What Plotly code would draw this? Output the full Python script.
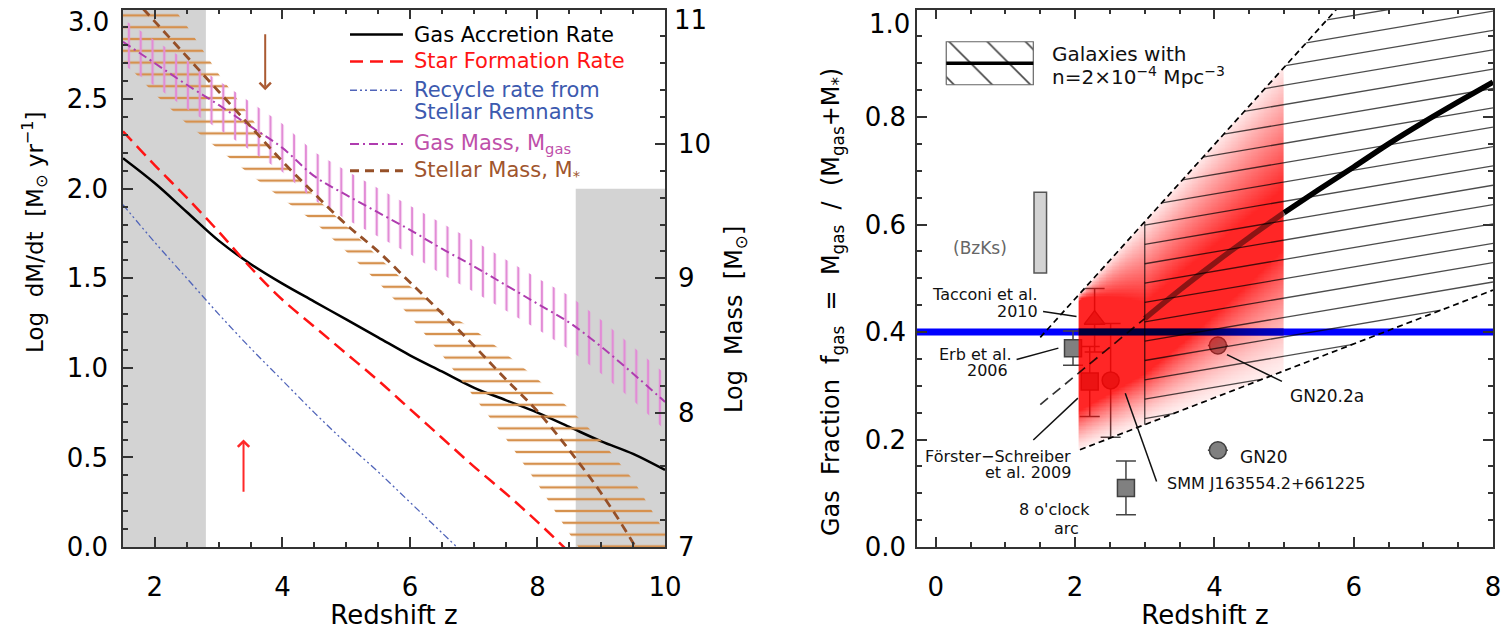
import numpy as np
import plotly.graph_objects as go

FONT = "DejaVu Sans"

# ---------------- left panel: accretion / SFR / masses vs redshift ----------------
z_grid = [1.5, 2.0, 2.5, 3.0, 3.5, 4.0, 4.5, 5.0, 5.5, 6.0, 6.5, 7.0, 7.5, 8.0, 8.5, 9.0, 9.5, 10.0]
accretion_rate = [2.17, 2.03, 1.87, 1.71, 1.58, 1.47, 1.37, 1.27, 1.17, 1.07, 0.98, 0.89, 0.82, 0.75, 0.67, 0.59, 0.52, 0.43]

z_sfr = [1.5, 2.0, 2.5, 3.0, 3.5, 4.0, 4.5, 5.0, 5.5, 6.0, 6.5, 7.0, 7.5, 8.0, 8.5]
sfr = [2.32, 2.13, 1.95, 1.76, 1.56, 1.38, 1.23, 1.08, 0.93, 0.77, 0.61, 0.45, 0.30, 0.14, -0.03]

z_recycle = [1.5, 2.0, 2.5, 3.0, 3.5, 4.0, 4.5, 5.0, 5.5, 6.0, 6.5, 7.0]
recycle_rate = [1.91, 1.70, 1.50, 1.30, 1.11, 0.93, 0.75, 0.58, 0.42, 0.25, 0.08, -0.09]

gas_mass = [10.76, 10.60, 10.44, 10.29, 10.13, 9.97, 9.76, 9.62, 9.49, 9.36, 9.22, 9.09, 8.95, 8.81, 8.67, 8.49, 8.29, 8.08]
gas_mass_err = [0.17, 0.17, 0.18, 0.18, 0.18, 0.18, 0.18, 0.18, 0.18, 0.18, 0.19, 0.19, 0.19, 0.19, 0.20, 0.20, 0.20, 0.21]

stellar_mass = [11.17, 10.91, 10.65, 10.39, 10.13, 9.87, 9.63, 9.40, 9.20, 8.97, 8.74, 8.50, 8.25, 8.01, 7.72, 7.40, 7.03, 6.60]
stellar_lo = [10.62, 10.37, 10.15, 9.96, 9.77, 9.59, 9.42, 9.20, 8.97, 8.72, 8.43, 8.12, 7.81, 7.47, 7.10, 6.75, 6.40, 6.05]
stellar_hi = [11.50, 11.20, 10.88, 10.52, 10.20, 9.87, 9.61, 9.39, 9.16, 8.94, 8.76, 8.62, 8.44, 8.25, 8.03, 7.79, 7.50, 7.11]

rate_ticks = [0.0, 0.5, 1.0, 1.5, 2.0, 2.5, 3.0]
mass_ticks = [7, 8, 9, 10, 11]
frac_ticks = [0.0, 0.2, 0.4, 0.6, 0.8, 1.0]

# ---------------- right panel: gas fraction vs redshift ----------------
edge_up_z = [1.5, 5.75]
edge_up_f = [0.39, 1.0]
edge_lo_z = [2.07, 8.0]
edge_lo_f = [0.181, 0.478]
center_ext_z = [1.5, 2.0, 2.5, 3.0]
center_ext_f = [0.265, 0.318, 0.372, 0.425]
center_z = [3.0, 3.5, 4.0, 4.5, 5.0, 5.5, 6.0, 6.5, 7.0, 7.5, 8.0]
center_f = [0.425, 0.478, 0.528, 0.576, 0.622, 0.665, 0.707, 0.750, 0.790, 0.828, 0.865]
hatch_range = [3.0, 8.0]
red_range = [2.05, 5.0]
blue_level = 0.40

square_z = [1.97, 2.21, 2.73]          # Erb et al., Forster-Schreiber et al., 8 o'clock arc
square_f = [0.370, 0.308, 0.110]
square_err = [0.032, 0.065, 0.050]
tri_z = [2.28]                         # Tacconi et al.
tri_f = [0.423]
tri_err_plus = [0.058]
tri_err_minus = [0.060]
circ_z = [2.51, 4.05, 4.05]            # SMM J163554, GN20.2a, GN20
circ_f = [0.310, 0.375, 0.180]
circ_err = [0.106, None, None]
bzk_z = [1.5]
bzk_lo = [0.51]
bzk_hi = [0.66]

# ---------------- colours ----------------
C_BLACK = "black"
C_RED = "rgb(255,20,20)"
C_BLUE = "rgb(80,100,185)"
C_BLUE_TXT = "rgb(60,90,175)"
C_MAG = "rgb(175,60,175)"
C_MAG_TXT = "rgb(190,80,170)"
C_PINK = "rgb(226,140,214)"
C_BROWN = "rgb(150,80,40)"
C_BROWN_TXT = "rgb(160,85,45)"
C_ORANGE = "rgb(214,145,78)"
C_GRAY = "rgb(211,211,211)"
C_AX = "#333333"

fig = go.Figure()

# stellar-mass range: horizontal line fill
fig.add_trace(go.Scatter(
    x=z_grid + z_grid[::-1], y=stellar_hi + stellar_lo[::-1],
    xaxis="x", yaxis="y2", mode="lines", line=dict(width=0),
    fill="toself", fillcolor="rgba(0,0,0,0)",
    fillpattern=dict(shape="-", fgcolor=C_ORANGE, size=11.8, solidity=0.2),
    hoverinfo="skip"))

# gas-mass range: vertical line fill
gas_hi = [m + e for m, e in zip(gas_mass, gas_mass_err)]
gas_lo = [m - e for m, e in zip(gas_mass, gas_mass_err)]
fig.add_trace(go.Scatter(
    x=z_grid + z_grid[::-1], y=gas_hi + gas_lo[::-1],
    xaxis="x", yaxis="y2", mode="lines", line=dict(width=0),
    fill="toself", fillcolor="rgba(0,0,0,0)",
    fillpattern=dict(shape="|", fgcolor=C_PINK, size=11.8, solidity=0.2),
    hoverinfo="skip"))

fig.add_trace(go.Scatter(x=z_grid, y=accretion_rate, xaxis="x", yaxis="y", mode="lines",
                         line=dict(color=C_BLACK, width=2.5, shape="spline")))
fig.add_trace(go.Scatter(x=z_sfr, y=sfr, xaxis="x", yaxis="y", mode="lines",
                         line=dict(color=C_RED, width=2.5, dash="13px,7px", shape="spline")))
fig.add_trace(go.Scatter(x=z_recycle, y=recycle_rate, xaxis="x", yaxis="y", mode="lines",
                         line=dict(color=C_BLUE, width=1.3, dash="7px,3px,2px,3px,2px,3px", shape="spline")))
fig.add_trace(go.Scatter(x=z_grid, y=gas_mass, xaxis="x", yaxis="y2", mode="lines",
                         line=dict(color=C_MAG, width=2, dash="9px,4px,2px,4px", shape="spline")))
fig.add_trace(go.Scatter(x=z_grid, y=stellar_mass, xaxis="x", yaxis="y2", mode="lines",
                         line=dict(color=C_BROWN, width=2.8, dash="9px,6px", shape="spline")))

# ---------------- right panel, base layer ----------------
fig.add_trace(go.Bar(x=bzk_z, y=[h - l for h, l in zip(bzk_hi, bzk_lo)], base=bzk_lo, width=0.18,
                     xaxis="x2", yaxis="y3",
                     marker=dict(color="#d3d3d3", line=dict(color="#555555", width=1.5))))

fig.add_trace(go.Scatter(x=[-0.27, 8.0], y=[blue_level, blue_level], xaxis="x2", yaxis="y3",
                         mode="lines", line=dict(color="rgb(0,0,255)", width=7)))

MARK = dict(color="#808080", line=dict(color="#404040", width=1.5))
ERR = dict(type="data", color="#444444", thickness=1.5, width=10)
fig.add_trace(go.Scatter(x=square_z, y=square_f, xaxis="x2", yaxis="y3", mode="markers",
                         marker=dict(symbol="square", size=17, **MARK),
                         error_y=dict(array=square_err, **ERR)))
fig.add_trace(go.Scatter(x=tri_z, y=tri_f, xaxis="x2", yaxis="y3", mode="markers",
                         marker=dict(symbol="triangle-up", size=18, **MARK),
                         error_y=dict(array=tri_err_plus, arrayminus=tri_err_minus, symmetric=False, **ERR)))
fig.add_trace(go.Scatter(x=circ_z, y=circ_f, xaxis="x2", yaxis="y3", mode="markers",
                         marker=dict(symbol="circle", size=17, **MARK),
                         error_y=dict(array=[e if e is not None else float("nan") for e in circ_err], **ERR)))


# ---------------- right panel, overlay: shaded red band + hatch ----------------
def edge_value(zs, fs, z):
    """Straight edge through two end points, extended beyond them."""
    slope = (fs[1] - fs[0]) / (zs[1] - zs[0])
    return fs[0] + slope * (np.asarray(z) - zs[0])


def red_level(z, f):
    lo = edge_value(edge_lo_z, edge_lo_f, z)
    up = edge_value(edge_up_z, edge_up_f, z)
    frac = (f - lo) / (up - lo)
    top_start = 0.6 + 0.35 * np.clip((3.0 - z) / 0.9, 0, 1)
    low_end = 0.25 + 0.075 * np.clip(z - 3.0, 0, 2)
    level = np.ones_like(frac)
    low = frac < low_end
    level[low] = 0.08 + 0.92 * np.clip(frac[low] / low_end[low], 0, 1) ** 1.3
    high = frac > top_start
    level[high] = 1 - 0.9 * (frac[high] - top_start[high]) / (1 - top_start[high])
    level[(frac < 0) | (frac > 1)] = np.nan
    return level


hx = np.arange(red_range[0], red_range[1] + 1e-9, 0.0125)
hy = np.arange(0.16, 0.92, 0.0025)
cx = 0.5 * (hx[1:] + hx[:-1])
cy = 0.5 * (hy[1:] + hy[:-1])
CX, CY = np.meshgrid(cx, cy)
level = np.round(red_level(CX, CY), 3)
RED_ALPHA = 0.85
fig.add_trace(go.Heatmap(x=hx, y=hy, z=level, xaxis="x3", yaxis="y4", zmin=0, zmax=1,
                         colorscale=[[0, "rgba(255,0,0,0)"], [1, f"rgba(255,0,0,{RED_ALPHA})"]],
                         showscale=False, hoverinfo="skip"))
# blue line where it crosses the red band, darkened by the shading
strip = np.round(red_level(cx, np.full_like(cx, blue_level)), 3)
fig.add_trace(go.Heatmap(x=hx, y=[blue_level - 0.0066, blue_level + 0.0066], z=[strip.tolist()],
                         xaxis="x3", yaxis="y4", zmin=0, zmax=1,
                         colorscale=[[0, "rgb(0,0,255)"], [1, "rgb(0,0,60)"]],
                         showscale=False, hoverinfo="skip"))

# hatch lines of the n=2e-4 Mpc^-3 band
HATCH_SLOPE = 0.022
HATCH_STEP = 0.036
zz = np.linspace(hatch_range[0], hatch_range[1], 4001)
lo_line = edge_value(edge_lo_z, edge_lo_f, zz)
up_line = np.minimum(edge_value(edge_up_z, edge_up_f, zz), 1.0)
hatch_x, hatch_y = [], []
for k in range(-2, 40):
    yy = 0.997 - k * HATCH_STEP + HATCH_SLOPE * (zz - hatch_range[1])
    inside = np.where((yy >= lo_line) & (yy <= up_line))[0]
    if inside.size > 1:
        i0, i1 = inside[0], inside[-1]
        hatch_x += [zz[i0], zz[i1], None]
        hatch_y += [yy[i0], yy[i1], None]
z_left = hatch_range[0]
hatch_x += [z_left, z_left, None]
hatch_y += [float(edge_value(edge_lo_z, edge_lo_f, z_left)), float(edge_value(edge_up_z, edge_up_f, z_left)), None]
fig.add_trace(go.Scatter(x=hatch_x, y=hatch_y, xaxis="x3", yaxis="y4", mode="lines",
                         line=dict(color="rgba(0,0,0,0.7)", width=1.3)))

# dashed band edges and extension of the central relation
up_end = (1.0 - edge_up_f[0]) / ((edge_up_f[1] - edge_up_f[0]) / (edge_up_z[1] - edge_up_z[0])) + edge_up_z[0]
fig.add_trace(go.Scatter(x=[edge_up_z[0], up_end], y=[edge_up_f[0], 1.0], xaxis="x3", yaxis="y4",
                         mode="lines", line=dict(color="black", width=1.7, dash="6px,4px")))
fig.add_trace(go.Scatter(x=edge_lo_z, y=edge_lo_f, xaxis="x3", yaxis="y4",
                         mode="lines", line=dict(color="black", width=1.7, dash="6px,4px")))
fig.add_trace(go.Scatter(x=center_ext_z, y=center_ext_f, xaxis="x3", yaxis="y4",
                         mode="lines", line=dict(color="rgba(0,0,0,0.8)", width=1.7, dash="10px,6px")))

# thick central relation: darkened inside the shading, black beyond it
in_red = [i for i, z in enumerate(center_z) if z <= red_range[1]]
out_red = [i for i, z in enumerate(center_z) if z >= red_range[1]]
fig.add_trace(go.Scatter(x=[center_z[i] for i in in_red], y=[center_f[i] for i in in_red],
                         xaxis="x3", yaxis="y4", mode="lines",
                         line=dict(color="rgba(0,0,0,0.45)", width=5.5, shape="spline")))
fig.add_trace(go.Scatter(x=[center_z[i] for i in out_red], y=[center_f[i] for i in out_red],
                         xaxis="x3", yaxis="y4", mode="lines",
                         line=dict(color="black", width=5.5, shape="spline")))

# key: hatched box with thick line
KEY_X0, KEY_X1, KEY_Y0, KEY_Y1, KEY_YM = 0.15, 1.40, 0.86, 0.94, 0.90
fig.add_trace(go.Scatter(x=[KEY_X0, KEY_X1, KEY_X1, KEY_X0, KEY_X0],
                         y=[KEY_Y0, KEY_Y0, KEY_Y1, KEY_Y1, KEY_Y0],
                         xaxis="x2", yaxis="y3", mode="lines", line=dict(color="#666666", width=1.2),
                         fill="toself", fillcolor="rgba(0,0,0,0)",
                         fillpattern=dict(shape="\\", fgcolor="#444444", size=27, solidity=0.06)))
fig.add_trace(go.Scatter(x=[KEY_X0, KEY_X1], y=[KEY_YM, KEY_YM], xaxis="x2", yaxis="y3",
                         mode="lines", line=dict(color="black", width=3.5)))

# ---------------- shapes ----------------
shapes = [
    dict(type="rect", xref="x", yref="y", x0=1.5, x1=2.8, y0=0, y1=3, fillcolor=C_GRAY,
         line=dict(width=0), layer="below"),
    dict(type="rect", xref="x", yref="y", x0=8.6, x1=10, y0=0, y1=2.0, fillcolor=C_GRAY,
         line=dict(width=0), layer="below"),
]
# legend samples (left panel)
LEG_X0, LEG_X1, LEG_TX = 5.06, 5.89, 6.03
legend_rows = [
    (2.86, C_BLACK, "solid", 2.5),
    (2.71, C_RED, "13px,7px", 2.5),
    (2.55, C_BLUE, "7px,3px,2px,3px,2px,3px", 1.5),
    (2.25, C_MAG, "9px,4px,2px,4px", 2),
    (2.10, C_BROWN, "9px,6px", 2.8),
]
for yv, col, dash, w in legend_rows:
    shapes.append(dict(type="line", xref="x", yref="y", x0=LEG_X0, x1=LEG_X1, y0=yv, y1=yv,
                       line=dict(color=col, width=w, dash=dash)))

# leader lines (right panel)
leaders = [
    ((1.54, 0.438), (2.02, 0.429)),
    ((1.16, 0.349), (1.76, 0.370)),
    ((1.40, 0.199), (2.04, 0.277)),
    ((2.72, 0.286), (3.17, 0.122)),
    ((4.18, 0.358), (4.97, 0.308)),
]
for (xa, ya), (xb, yb) in leaders:
    shapes.append(dict(type="line", xref="x2", yref="y3", x0=xa, y0=ya, x1=xb, y1=yb,
                       line=dict(color="#111111", width=1.5)))

# ---------------- annotations ----------------
W, H = 1509, 630
ann = []
legend_text = [
    (2.86, "Gas Accretion Rate", C_BLACK),
    (2.71, "Star Formation Rate", C_RED),
    (2.55, "Recycle rate from", C_BLUE_TXT),
    (2.43, "Stellar Remnants", C_BLUE_TXT),
    (2.25, "Gas Mass, M<sub>gas</sub>", C_MAG_TXT),
    (2.10, "Stellar Mass, M<sub>*</sub>", C_BROWN_TXT),
]
for yv, txt, col in legend_text:
    ann.append(dict(x=LEG_TX, y=yv, xref="x", yref="y", text=txt, showarrow=False,
                    xanchor="left", yanchor="middle", font=dict(family=FONT, size=21, color=col)))

ann.append(dict(x=3.73, y=2.55, ax=3.73, ay=2.87, xref="x", yref="y", axref="x", ayref="y",
                text="", showarrow=True, arrowhead=4, arrowsize=1.1, arrowwidth=2, arrowcolor="rgb(170,90,50)"))
ann.append(dict(x=3.39, y=0.60, ax=3.39, ay=0.30, xref="x", yref="y", axref="x", ayref="y",
                text="", showarrow=True, arrowhead=4, arrowsize=1.1, arrowwidth=2, arrowcolor="rgb(255,40,40)"))


def label(x, y, text, anchor="center", size=16, color="#111111"):
    ann.append(dict(x=x, y=y, xref="x2", yref="y3", text=text, showarrow=False,
                    xanchor=anchor, yanchor="middle", font=dict(family=FONT, size=size, color=color)))


label(0.63, 0.557, "(BzKs)", size=17, color="#666666")
label(1.49, 0.470, "Tacconi et al.", "right")
label(1.49, 0.438, "2010", "right")
label(1.11, 0.358, "Erb et al.", "right")
label(1.07, 0.329, "2006", "right")
label(1.97, 0.168, "Förster−Schreiber", "right")
label(1.97, 0.138, "et al. 2009", "right")
label(1.71, 0.069, "8 o'clock")
label(1.88, 0.035, "arc")
label(3.29, 0.119, "SMM J163554.2+661225", "left")
label(5.06, 0.281, "GN20.2a", "left", size=17)
label(4.34, 0.168, "GN20", "left", size=17)
label(1.64, 0.917, "Galaxies with", "left", size=20)
label(1.64, 0.877, "n=2×10<sup>−4</sup> Mpc<sup>−3</sup>", "left", size=20)


def paper_text(px, py, text, size, angle=0, anchor="center"):
    ann.append(dict(x=px / W, y=1 - py / H, xref="paper", yref="paper", text=text, showarrow=False,
                    textangle=angle, xanchor=anchor, yanchor="middle",
                    font=dict(family=FONT, size=size, color="black")))


paper_text(34, 232, "Log  dM/dt  [M<sub>⊙</sub> yr<sup>−1</sup>]", 23, -90)
paper_text(735, 320, "Log  Mass  [M<sub>⊙</sub>]", 24, -90)
paper_text(832, 302, "Gas  Fraction  f<sub>gas</sub>  =  M<sub>gas</sub>  /  (M<sub>gas</sub>+M<sub>*</sub>)", 24, -90)

# the top tick label of each vertical axis sits just below its tick, inside the page
paper_text(111, 22, f"{rate_ticks[-1]:.1f}", 26, anchor="right")
paper_text(672, 20, f"{mass_ticks[-1]}", 26, anchor="left")
paper_text(912, 24, f"{frac_ticks[-1]:.1f}", 26, anchor="right")

# ---------------- axes ----------------
TICKFONT = dict(family=FONT, size=26, color="black")
XTITLE = dict(family=FONT, size=26, color="black")
MINOR = dict(ticklen=5, ticks="inside", tickcolor=C_AX, tickwidth=1.5)
common = dict(showgrid=False, zeroline=False, showline=True, linecolor=C_AX, linewidth=1.6,
              ticks="inside", ticklen=10, tickwidth=1.5, tickcolor=C_AX, tickfont=TICKFONT)

left_dom = [123 / W, 665 / W]
right_dom = [917 / W, 1493 / W]
y_dom = [1 - 547 / H, 1 - 9.5 / H]

fig.update_layout(
    template="none",
    width=W, height=H, margin=dict(l=0, r=0, t=0, b=0),
    paper_bgcolor="white", plot_bgcolor="white", showlegend=False, hovermode=False,
    font=dict(family=FONT, color="black"),
    shapes=shapes, annotations=ann,
    xaxis=dict(domain=left_dom, anchor="y", range=[1.5, 10], tick0=0, dtick=2, mirror="ticks",
               minor=dict(dtick=0.5, **MINOR), ticklabelstandoff=16,
               title=dict(text="Redshift z", font=XTITLE, standoff=8), **common),
    yaxis=dict(domain=y_dom, anchor="x", range=[0, 3], tickmode="array", tickvals=rate_ticks,
               ticktext=[f"{v:.1f}" for v in rate_ticks[:-1]] + [""],
               minor=dict(dtick=0.1, **MINOR), ticklabelstandoff=8, **common),
    yaxis2=dict(overlaying="y", side="right", anchor="x", range=[7, 11], tickmode="array",
                tickvals=mass_ticks, ticktext=[str(v) for v in mass_ticks[:-1]] + [""],
                minor=dict(dtick=0.2, **MINOR), ticklabelstandoff=6, **common),
    xaxis2=dict(domain=right_dom, anchor="y3", range=[-0.27, 8], tick0=0, dtick=2, mirror="ticks",
                minor=dict(dtick=0.5, **MINOR), ticklabelstandoff=16,
                title=dict(text="Redshift z", font=XTITLE, standoff=8), **common),
    yaxis3=dict(domain=y_dom, anchor="x2", range=[0, 1], tickmode="array", tickvals=frac_ticks,
                ticktext=[f"{v:.1f}" for v in frac_ticks[:-1]] + [""],
                mirror="ticks", minor=dict(dtick=0.05, **MINOR), ticklabelstandoff=4, **common),
    xaxis3=dict(overlaying="x2", anchor="y4", range=[-0.27, 8], visible=False),
    yaxis4=dict(overlaying="y3", anchor="x3", range=[0, 1], visible=False),
)

fig.write_html("out.html")
